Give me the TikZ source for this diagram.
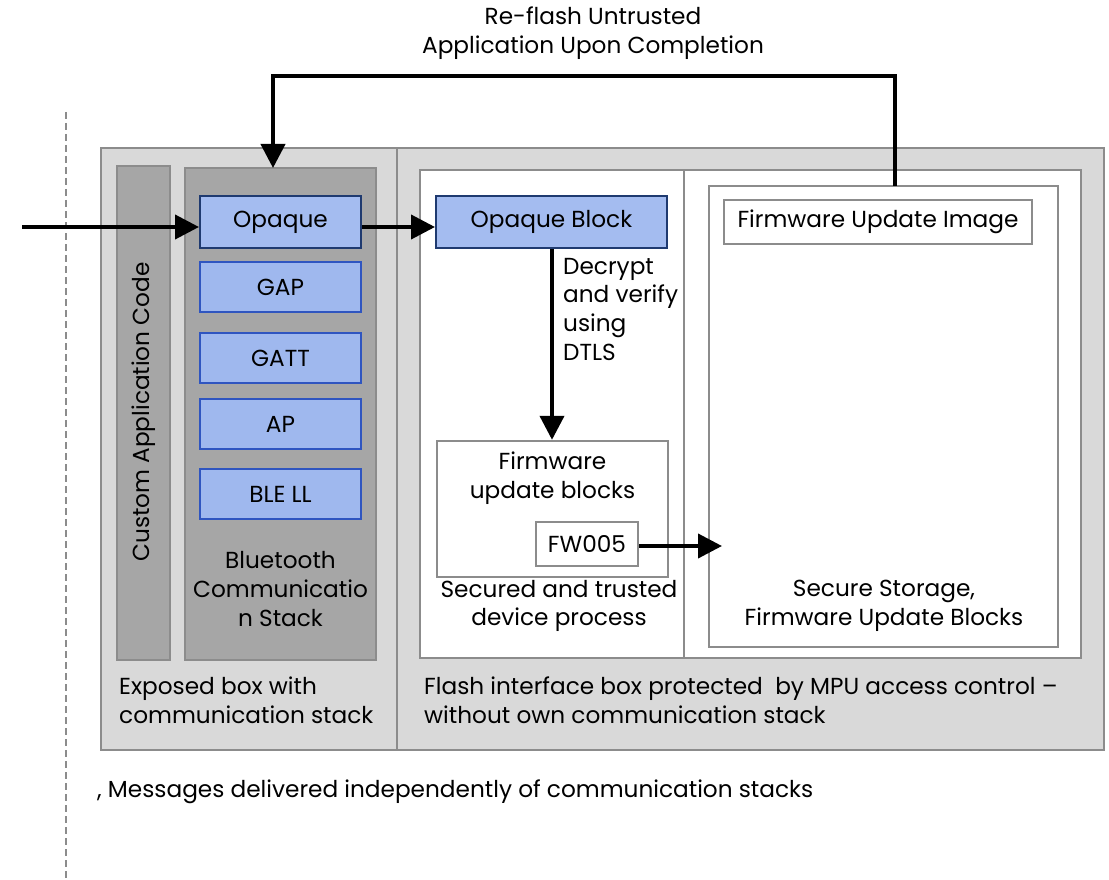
\documentclass[tikz,border=0pt]{standalone}
\usepackage{fontspec}
\setmainfont{Poppins}
\usetikzlibrary{arrows.meta}
\definecolor{panelgray}{HTML}{D9D9D9}
\definecolor{stackgray}{HTML}{A6A6A6}
\definecolor{edgegray}{HTML}{8C8C8C}
\definecolor{layerblue}{HTML}{9FB8EE}
\definecolor{opaqueblue}{HTML}{A4BCF0}
\definecolor{navyedge}{HTML}{1F3A70}
\definecolor{blueedge}{HTML}{2F55C0}
\tikzset{
  txt/.style={font=\fontsize{23.2}{28.6}\selectfont, text=black, inner sep=0pt},
  region/.style={draw=edgegray, line width=2.4pt, inner sep=0pt},
  layer/.style={draw=blueedge, fill=layerblue, line width=2pt, minimum width=161pt, minimum height=50pt, txt},
  opaquebox/.style={draw=navyedge, fill=opaqueblue, line width=2pt, minimum height=52pt, txt},
  plainbox/.style={draw=edgegray, fill=white, line width=2.4pt, txt},
  flow/.style={line width=4pt, -{Triangle[length=24pt,width=24pt]}},
}
\begin{document}
\begin{tikzpicture}[x=1pt,y=-1pt]
\useasboundingbox (0,0) rectangle (1109,880);

% separator on the left
\draw[edgegray, line width=2pt, dash pattern=on 7pt off 4pt] (66,112) -- (66,880);

% outer panel and its two halves
\draw[region, fill=panelgray] (101,148) rectangle (1104,750);
\draw[region] (397,148) -- (397,750);

% exposed side
\draw[region, fill=stackgray] (117,166) rectangle (170,660);
\node[txt, rotate=90] (cac) at (143.5,412) {Custom Application Code};
\draw[region, fill=stackgray] (185,168) rectangle (376,660);
\coordinate (bttop) at (273,168);

\node[opaquebox, minimum width=161pt] (opq) at (280.5,222) {Opaque};
\node[layer] (gap) at (280.5,287) {GAP};
\node[layer] (gatt) at (280.5,358) {GATT};
\node[layer] (ap) at (280.5,424) {AP};
\node[layer] (ble) at (280.5,494) {BLE LL};
\node[txt, align=center] (btlabel) at (280.5,589) {Bluetooth\\Communicatio\\n Stack};

\node[txt, align=left, anchor=west] (explabel) at (119,700) {Exposed box with\\communication stack};

% protected side
\draw[region, fill=white] (420,170) rectangle (1081,658);
\draw[region] (684,170) -- (684,658);

\node[opaquebox, minimum width=231pt] (opb) at (551.5,222) {Opaque Block};
\node[txt, align=left, anchor=north west] (dec) at (563,258) {Decrypt\\and verify\\using\\DTLS};

\node[plainbox, minimum width=231pt, minimum height=136pt] (fwb) at (552.5,509) {};
\node[txt, align=center] (fwblabel) at (552.5,478) {Firmware\\update blocks};
\node[plainbox, minimum width=102pt, minimum height=44pt] (fw) at (587,544) {FW005};
\node[txt, align=center] (sectrust) at (559,606) {Secured and trusted\\device process};

\node[plainbox, minimum width=349pt, minimum height=461pt] (store) at (883.5,416.5) {};
\node[plainbox, minimum width=308pt, minimum height=44pt] (fui) at (878,222) {Firmware Update Image};
\node[txt, align=center] (storelabel) at (884,606) {Secure Storage,\\Firmware Update Blocks};
\coordinate (storein) at (722,546);
\coordinate (storetop) at (895,186);

\node[txt, align=left, anchor=west] (flashlabel) at (424,700) {Flash interface box protected\ \ by MPU access control --\\without own communication stack};

\node[txt, anchor=west] (msg) at (97,792) {, Messages delivered independently of communication stacks};

\node[txt, align=center] (reflash) at (593,33) {Re-flash Untrusted\\Application Upon Completion};

% connectors
\coordinate (src) at (22,227);
\draw[flow] (src) -- (src -| opq.west);
\draw[flow] (opq.east |- 0,227) -- (opb.west |- 0,227);
\draw[flow] (opb.south -| 552,0) -- (fwb.north -| 552,0);
\draw[flow] (fw.east |- storein) -- (storein);
\draw[flow] (storetop) -- (895,76) -- (273,76) -- (bttop);
\end{tikzpicture}
\end{document}
